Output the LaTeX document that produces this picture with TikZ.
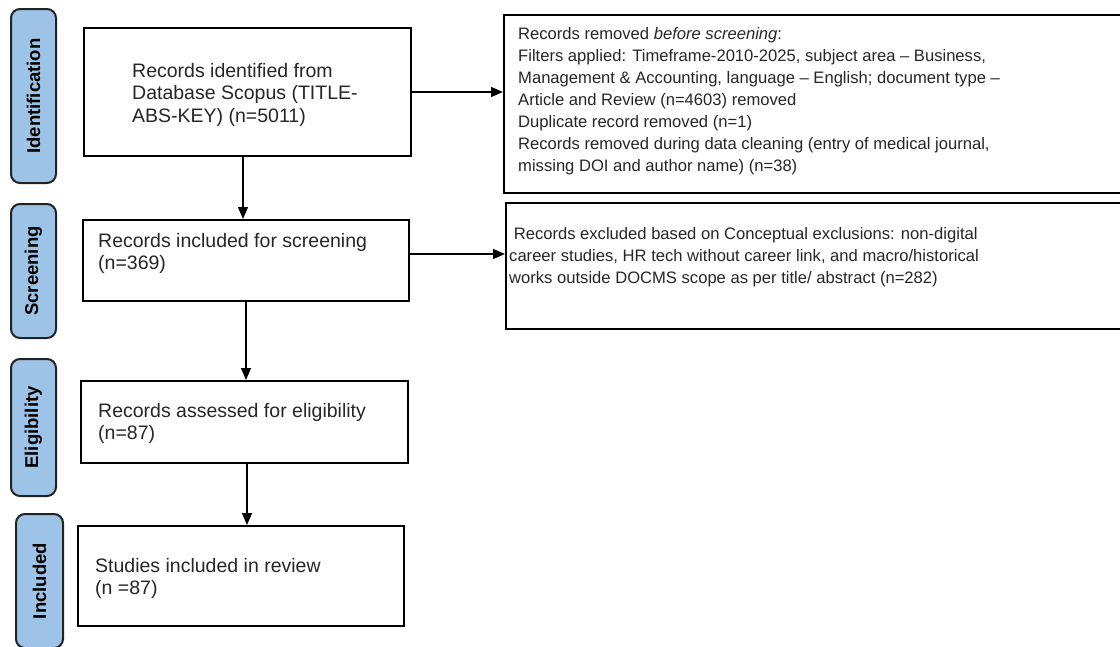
\documentclass[tikz,border=0pt]{standalone}
\usepackage{fontspec}
\setmainfont{Liberation Sans}
\usetikzlibrary{arrows.meta,calc}
\definecolor{pillblue}{HTML}{9DC3E6}
\definecolor{pillline}{HTML}{222222}
\tikzset{
  box/.style={draw=black, line width=2pt, rectangle, anchor=north west, inner sep=0pt},
  pill/.style={draw=pillline, fill=pillblue, line width=2pt, rounded corners=9pt, anchor=north west, inner sep=0pt},
  pilltext/.style={rotate=90, font=\fontsize{18.5}{20}\selectfont\bfseries, inner sep=0pt},
  ltxt/.style={anchor=north west, align=left, inner sep=0pt, font=\fontsize{19.5}{22.5}\selectfont, text=black!85},
  rtxt/.style={anchor=north west, align=left, inner sep=0pt, font=\fontsize{16.6}{22}\selectfont, text=black!85},
  arr/.style={-{Triangle[length=12pt,width=10pt]}, line width=1.2pt}
}
\begin{document}
\begin{tikzpicture}[x=1pt,y=-1pt]
\useasboundingbox[fill=white] (0,0) rectangle (1120,646);
% phase pills
\node[pill, minimum width=45pt, minimum height=174pt] (p1) at (10,8) {};
\node[pilltext] (p1t) at (p1.center) {Identification};
\node[pill, minimum width=45pt, minimum height=134pt] (p2) at (10,203) {};
\node[pilltext] (p2t) at (p2.center) {Screening};
\node[pill, minimum width=45pt, minimum height=137pt] (p3) at (10,358) {};
\node[pilltext] (p3t) at (p3.center) {Eligibility};
\node[pill, minimum width=47pt, minimum height=134pt] (p4) at (15,513) {};
\node[pilltext] (p4t) at (p4.center) {Included};
% left boxes
\node[box, minimum width=327pt, minimum height=128pt] (b1) at (83,27) {};
\node[ltxt] (b1t) at (132,63) {Records identified from\\Database Scopus (TITLE-\\ABS-KEY) (n=5011)};
\node[box, minimum width=326pt, minimum height=81pt] (b2) at (82,219) {};
\node[ltxt] (b2t) at (98,233) {Records included for screening\\(n=369)};
\node[box, minimum width=327pt, minimum height=82pt] (b3) at (80,380) {};
\node[ltxt] (b3t) at (98,403) {Records assessed for eligibility\\(n=87)};
\node[box, minimum width=326pt, minimum height=100pt] (b4) at (77,525) {};
\node[ltxt] (b4t) at (95,558) {Studies included in review\\(n =87)};
% right boxes
\node[box, minimum width=640pt, minimum height=178pt] (r1) at (503,14) {};
\node[rtxt] (r1t) at (518,27) {Records removed \textit{before screening}:\\
Filters applied: Timeframe-2010-2025, subject area – Business,\\
Management \& Accounting, language – English; document type –\\
Article and Review (n=4603) removed\\
Duplicate record removed (n=1)\\
Records removed during data cleaning (entry of medical journal,\\
missing DOI and author name) (n=38)};
\node[box, minimum width=640pt, minimum height=126pt] (r2) at (505,202) {};
\node[rtxt] (r2t) at (509,227) {\hspace*{4.6pt}Records excluded based on Conceptual exclusions: non-digital\\
career studies, HR tech without career link, and macro/historical\\
works outside DOCMS scope as per title/ abstract (n=282)};
% connectors
\draw[arr] ([xshift=-4.5pt]b1.south) -- ([xshift=-4.5pt]b1.south |- b2.north);
\draw[arr] (b2.south) -- (b2.south |- b3.north);
\draw[arr] ([xshift=2.5pt]b3.south) -- ([xshift=2.5pt]b3.south |- b4.north);
\draw[arr] (b1.east) -- (b1.east -| r1.west);
\draw[arr] ([yshift=6.5pt]b2.east) -- ([yshift=6.5pt]b2.east -| r2.west);
\end{tikzpicture}
\end{document}
